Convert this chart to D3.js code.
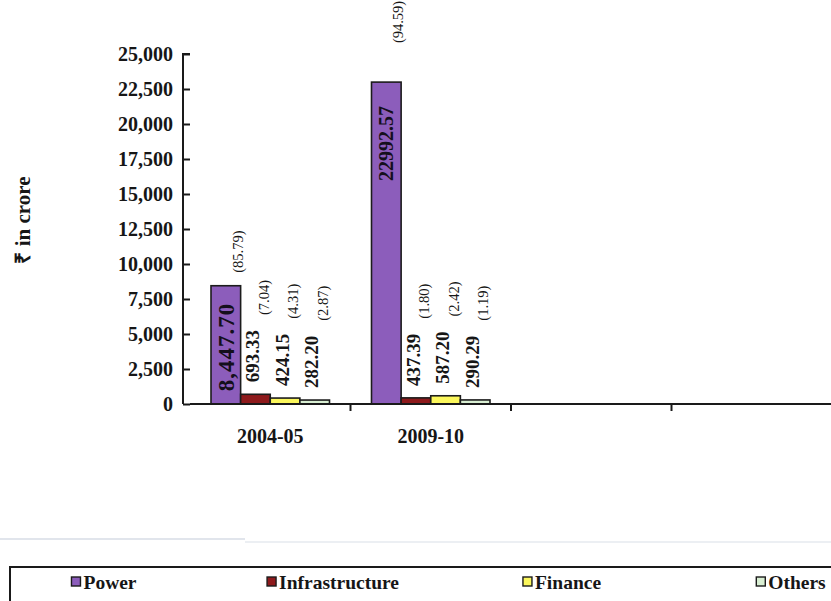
<!DOCTYPE html>
<html>
<head>
<meta charset="utf-8">
<script src="https://cdn.jsdelivr.net/npm/d3@7"></script>
<style>
  html, body { margin: 0; padding: 0; background: #fff; }
  svg { display: block; }
</style>
</head>
<body>
<svg id="chart" width="831" height="601"></svg>
<script>
// Category slots on the x axis (two years shown, two empty slots)
const categories = ["2004-05", "2009-10", "", ""];
const series = ["Power", "Infrastructure", "Finance", "Others"];

// Amount (₹ crore) per series, one value per year
const power          = [8447.70, 22992.57];
const infrastructure = [693.33, 437.39];
const finance        = [424.15, 587.20];
const others         = [282.20, 290.29];

// Share of total (%) per series, one value per year
const powerShare          = [85.79, 94.59];
const infrastructureShare = [7.04, 1.80];
const financeShare        = [4.31, 2.42];
const othersShare         = [2.87, 1.19];

const yTicks = [0, 2500, 5000, 7500, 10000, 12500, 15000, 17500, 20000, 22500, 25000];

const colors = {
  Power: "#8c5dbb",
  Infrastructure: "#8e1a1c",
  Finance: "#fbf75c",
  Others: "#d9efd3"
};

const SERIF = "Liberation Serif, Times New Roman, serif";

const valuesBySeries = { Power: power, Infrastructure: infrastructure, Finance: finance, Others: others };
const sharesBySeries = { Power: powerShare, Infrastructure: infrastructureShare, Finance: financeShare, Others: othersShare };

// Amount labels: first year printed with thousands separator, second without
const amountFormat = [d3.format(",.2f"), d3.format(".2f")];

const svg = d3.select("#chart");
const plot = { left: 190, right: 832, top: 54, bottom: 404 };

const x0 = d3.scaleBand().domain(d3.range(categories.length)).range([plot.left, plot.right]);
const x1 = d3.scaleBand().domain(series).range([21, x0.bandwidth() - 21]);
const y = d3.scaleLinear().domain([0, 25000]).range([plot.bottom, plot.top]);

function txt(sel) {
  return sel.attr("font-family", SERIF).attr("fill", "#161616");
}

// Y axis
const yAxis = svg.append("g")
  .attr("transform", `translate(${plot.left},0)`)
  .call(d3.axisLeft(y).tickValues(yTicks).tickSize(7).tickPadding(10).tickFormat(d3.format(",")));
yAxis.attr("font-family", SERIF);
yAxis.select(".domain").attr("stroke", "#1a1a1a").attr("stroke-width", 2).attr("d", `M0,${plot.top}H-7V${plot.bottom}`);
yAxis.selectAll(".tick line").attr("stroke", "#1a1a1a").attr("stroke-width", 2);
yAxis.selectAll(".tick text")
  .attr("font-family", SERIF)
  .attr("font-weight", "bold")
  .attr("font-size", 20)
  .attr("fill", "#161616");

// Y axis title
svg.append("text")
  .call(txt)
  .attr("transform", "translate(30,220) rotate(-90)")
  .attr("text-anchor", "middle")
  .attr("font-weight", "bold")
  .attr("font-size", 21)
  .text("₹ in crore");

// Bars
const rows = [];
categories.forEach((c, i) => {
  if (i >= power.length) return;
  series.forEach(s => rows.push({ i, cat: c, s, v: valuesBySeries[s][i], p: sharesBySeries[s][i] }));
});

svg.append("g").selectAll("rect").data(rows).join("rect")
  .attr("x", d => x0(d.i) + x1(d.s))
  .attr("y", d => y(d.v))
  .attr("width", x1.bandwidth())
  .attr("height", d => y(0) - y(d.v))
  .attr("fill", d => colors[d.s])
  .attr("stroke", "#1c1c1c")
  .attr("stroke-width", 1.6);

// X axis (drawn over the bar bases)
const xAxis = svg.append("g")
  .attr("transform", `translate(0,${plot.bottom})`);
xAxis.append("line")
  .attr("x1", plot.left).attr("x2", plot.right)
  .attr("stroke", "#1a1a1a").attr("stroke-width", 2);
xAxis.selectAll("line.tick").data(d3.range(1, categories.length + 1)).join("line")
  .attr("class", "tick")
  .attr("x1", i => plot.left + i * x0.bandwidth())
  .attr("x2", i => plot.left + i * x0.bandwidth())
  .attr("y1", 0).attr("y2", 7)
  .attr("stroke", "#1a1a1a").attr("stroke-width", 2);
xAxis.selectAll("text").data(categories).join("text")
  .call(txt)
  .attr("x", (c, i) => x0(i) + x0.bandwidth() / 2)
  .attr("y", 39)
  .attr("text-anchor", "middle")
  .attr("font-weight", "bold")
  .attr("font-size", 20)
  .text(c => c);

// Value and share labels
const labels = svg.append("g");
const insideStyle = { 0: { size: 23, spacing: 1, inset: 17 }, 1: { size: 20, spacing: 0, inset: 24 } };
const shareLift = { 0: 13, 1: 39 };

rows.forEach(d => {
  const cx = x0(d.i) + x1(d.s) + x1.bandwidth() / 2;
  const top = y(d.v);
  const amount = amountFormat[d.i](d.v);
  const share = `(${d3.format(".2f")(d.p)})`;

  if (d.s === "Power") {
    // amount written inside the tall bar, share above it
    const st = insideStyle[d.i];
    labels.append("text")
      .call(txt)
      .attr("transform", `translate(${cx},${top + st.inset}) rotate(-90)`)
      .attr("dy", "0.35em")
      .attr("text-anchor", "end")
      .attr("font-weight", "bold")
      .attr("font-size", st.size)
      .attr("letter-spacing", st.spacing)
      .attr("fill", "#140f1c")
      .text(amount);
    labels.append("text")
      .call(txt)
      .attr("transform", `translate(${cx + 12},${top - shareLift[d.i]}) rotate(-90)`)
      .attr("dy", "0.35em")
      .attr("font-size", 14.5)
      .text(share);
  } else {
    const amt = labels.append("text")
      .call(txt)
      .attr("transform", `translate(${cx - 3},${top - 12}) rotate(-90)`)
      .attr("dy", "0.35em")
      .attr("font-weight", "bold")
      .attr("font-size", 19)
      .text(amount);
    const len = amt.node().getComputedTextLength();
    labels.append("text")
      .call(txt)
      .attr("transform", `translate(${cx + 8},${top - 12 - len - 15}) rotate(-90)`)
      .attr("dy", "0.35em")
      .attr("font-size", 14.5)
      .text(share);
  }
});

// Faint rule above the legend
svg.append("line").attr("x1", 0).attr("x2", 245).attr("y1", 539).attr("y2", 539)
  .attr("stroke", "#d7dde6").attr("stroke-width", 1.5);
svg.append("line").attr("x1", 245).attr("x2", 831).attr("y1", 542).attr("y2", 542)
  .attr("stroke", "#e6eaef").attr("stroke-width", 1.5);

// Legend: each entry centred in an equal slot
const legend = svg.append("g");
legend.append("rect")
  .attr("x", 10).attr("y", 567).attr("width", 840).attr("height", 60)
  .attr("fill", "none").attr("stroke", "#1a1a1a").attr("stroke-width", 2);
const legendX = d3.scalePoint().domain(series).range([104, 791]);
const items = legend.selectAll("g.item").data(series).join("g")
  .attr("class", "item");
items.append("rect")
  .attr("x", 0).attr("y", -5).attr("width", 9).attr("height", 9)
  .attr("fill", s => colors[s]).attr("stroke", "#1c1c1c").attr("stroke-width", 1.4);
items.append("text")
  .call(txt)
  .attr("x", 12).attr("dy", "0.35em")
  .attr("font-weight", "bold")
  .attr("font-size", 19.5)
  .text(s => s);
items.each(function (s) {
  const w = 12 + d3.select(this).select("text").node().getComputedTextLength();
  d3.select(this).attr("transform", `translate(${legendX(s) - w / 2},582)`);
});
</script>
</body>
</html>
